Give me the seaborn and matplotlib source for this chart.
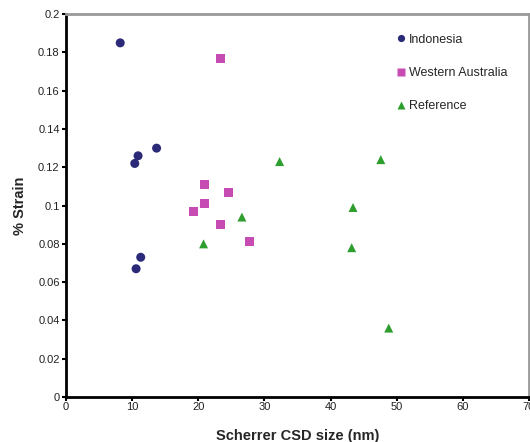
import matplotlib
matplotlib.use("Agg")
import matplotlib.pyplot as plt
import seaborn as sns
import pandas as pd

indo_x = [8.2, 10.4, 10.9, 13.7, 10.6, 11.3]
indo_y = [0.185, 0.122, 0.126, 0.130, 0.067, 0.073]
wa_x = [23.4, 21.0, 24.5, 21.0, 19.3, 23.4, 27.8]
wa_y = [0.177, 0.111, 0.107, 0.101, 0.097, 0.090, 0.081]
ref_x = [32.3, 47.6, 26.6, 20.8, 43.4, 43.2, 48.8]
ref_y = [0.123, 0.124, 0.094, 0.080, 0.099, 0.078, 0.036]
series = ["Indonesia", "Western Australia", "Reference"]

df = pd.DataFrame({
    "x": indo_x + wa_x + ref_x,
    "y": indo_y + wa_y + ref_y,
    "group": [series[0]] * len(indo_x) + [series[1]] * len(wa_x) + [series[2]] * len(ref_x),
})

sns.set_style("white")
plt.rcParams["font.family"] = ["Liberation Sans", "DejaVu Sans"]

fig = plt.figure(figsize=(5.3, 4.42), dpi=100)
ax = fig.add_axes([0.1245, 0.1018, 0.8735, 0.8662])

palette = {"Indonesia": "#2B2A78", "Western Australia": "#C64BB2", "Reference": "#2E9E2E"}
markers = {"Indonesia": "o", "Western Australia": "s", "Reference": "^"}
sns.scatterplot(data=df, x="x", y="y", hue="group", style="group",
                palette=palette, markers=markers, s=42, edgecolor="none", ax=ax)

ax.set_xlim(0, 70)
ax.set_ylim(0, 0.2)
ax.set_xticks(range(0, 71, 10))
ax.set_yticks([i * 0.02 for i in range(11)])
ax.set_yticklabels(["0", "0.02", "0.04", "0.06", "0.08", "0.1", "0.12", "0.14", "0.16", "0.18", "0.2"])
ax.tick_params(axis="both", direction="out", length=3, width=1.5, labelsize=8,
               colors="black", labelcolor="#222222")
ax.tick_params(axis="x", pad=0.5)
ax.tick_params(axis="y", pad=1.5)
ax.tick_params(left=True, bottom=True)
for side in ["left", "bottom"]:
    ax.spines[side].set_color("black")
    ax.spines[side].set_linewidth(2)
for side in ["top", "right"]:
    ax.spines[side].set_color("#999999")
    ax.spines[side].set_linewidth(2)

ax.set_xlabel("Scherrer CSD size (nm)", fontsize=10.5, fontweight="bold", labelpad=12)
ax.set_ylabel("% Strain", fontsize=10.5, fontweight="bold", labelpad=8)

leg = ax.legend(loc="upper left", bbox_to_anchor=(0.70, 0.962), frameon=False,
                fontsize=9, handletextpad=0.1, labelspacing=1.7, markerscale=0.8,
                handlelength=1.0, borderaxespad=0)

fig.savefig("out.png", dpi=100)
